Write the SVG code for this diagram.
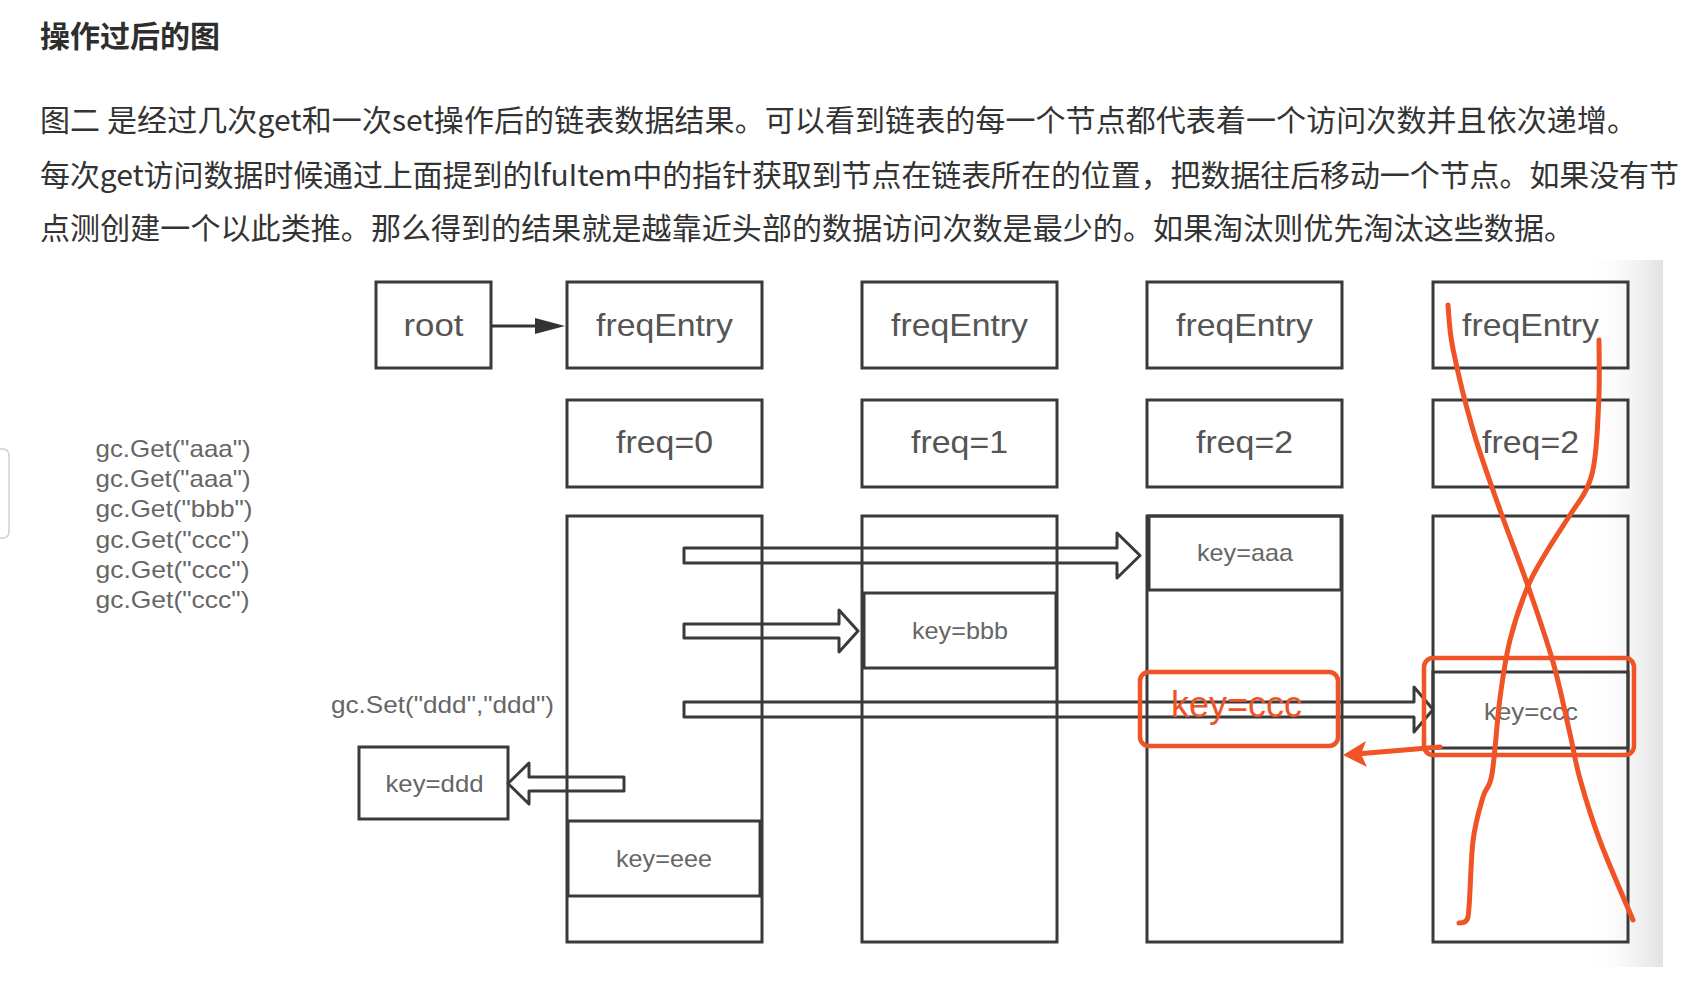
<svg xmlns="http://www.w3.org/2000/svg" width="1700" height="1002" viewBox="0 0 1700 1002">
<defs>
<linearGradient id="shadow" x1="0" y1="0" x2="1" y2="0">
<stop offset="0" stop-color="#ffffff" stop-opacity="0"/>
<stop offset="1" stop-color="#e1e1e1"/>
</linearGradient>
</defs>
<style>
.t{font-family:"Noto Sans CJK SC","Noto Sans",sans-serif;fill:#333;font-size:30px}
.title{font-weight:600;fill:#2e2e2e}
.box{fill:none;stroke:#3a3a3a;stroke-width:3}
.lbl{font-family:"Liberation Sans",Arial,sans-serif;fill:#555}
.big{font-size:32px}
.sm{font-size:24px;fill:#666}
.harrow{fill:none;stroke:#3a3a3a;stroke-width:3;stroke-linejoin:round}
.red{fill:none;stroke:#ef5326;stroke-width:5;stroke-linecap:round;stroke-linejoin:round}
.redbox{fill:none;stroke:#ef5326;stroke-width:4.5}
</style>
<rect x="0" y="0" width="1700" height="1002" fill="#ffffff"/>
<rect x="1585" y="260" width="78" height="707" fill="url(#shadow)"/>
<rect x="-12" y="449" width="21" height="89" rx="6" fill="none" stroke="#cfcfcf" stroke-width="1.5"/>

<g id="text-block">
<text class="t title" x="40" y="47.4">操作过后的图</text>
<text class="t" x="40" y="131.4" textLength="1597" lengthAdjust="spacing">图二 是经过几次get和一次set操作后的链表数据结果。可以看到链表的每一个节点都代表着一个访问次数并且依次递增。</text>
<text class="t" x="40" y="185.9" textLength="1639" lengthAdjust="spacing">每次get访问数据时候通过上面提到的lfuItem中的指针获取到节点在链表所在的位置，把数据往后移动一个节点。如果没有节</text>
<text class="t" x="40" y="239.4" textLength="1534" lengthAdjust="spacing">点测创建一个以此类推。那么得到的结果就是越靠近头部的数据访问次数是最少的。如果淘汰则优先淘汰这些数据。</text>
</g>

<g id="ops">
<text class="lbl sm" x="95.5" y="457" textLength="155" lengthAdjust="spacingAndGlyphs">gc.Get("aaa")</text>
<text class="lbl sm" x="95.5" y="487" textLength="155" lengthAdjust="spacingAndGlyphs">gc.Get("aaa")</text>
<text class="lbl sm" x="95.5" y="517" textLength="157" lengthAdjust="spacingAndGlyphs">gc.Get("bbb")</text>
<text class="lbl sm" x="95.5" y="547.5" textLength="154" lengthAdjust="spacingAndGlyphs">gc.Get("ccc")</text>
<text class="lbl sm" x="95.5" y="577.5" textLength="154" lengthAdjust="spacingAndGlyphs">gc.Get("ccc")</text>
<text class="lbl sm" x="95.5" y="608" textLength="154" lengthAdjust="spacingAndGlyphs">gc.Get("ccc")</text>
<text class="lbl sm" x="331" y="713" textLength="223" lengthAdjust="spacingAndGlyphs">gc.Set("ddd","ddd")</text>
</g>

<g id="root">
<rect class="box" x="376" y="282" width="115" height="86"/>
<text class="lbl big" x="403.5" y="336" textLength="60" lengthAdjust="spacingAndGlyphs">root</text>
</g>
<g id="freqEntry1">
<rect class="box" x="567" y="282" width="195" height="86"/>
<text class="lbl big" x="596" y="336" textLength="137" lengthAdjust="spacingAndGlyphs">freqEntry</text>
</g>
<g id="freqEntry2">
<rect class="box" x="862" y="282" width="195" height="86"/>
<text class="lbl big" x="891" y="336" textLength="137" lengthAdjust="spacingAndGlyphs">freqEntry</text>
</g>
<g id="freqEntry3">
<rect class="box" x="1147" y="282" width="195" height="86"/>
<text class="lbl big" x="1176" y="336" textLength="137" lengthAdjust="spacingAndGlyphs">freqEntry</text>
</g>
<g id="freqEntry4">
<rect class="box" x="1433" y="282" width="195" height="86"/>
<text class="lbl big" x="1462" y="336" textLength="137" lengthAdjust="spacingAndGlyphs">freqEntry</text>
</g>

<g id="freq0">
<rect class="box" x="567" y="400" width="195" height="87"/>
<text class="lbl big" x="616" y="453" textLength="97" lengthAdjust="spacingAndGlyphs">freq=0</text>
</g>
<g id="freq1">
<rect class="box" x="862" y="400" width="195" height="87"/>
<text class="lbl big" x="911" y="453" textLength="97" lengthAdjust="spacingAndGlyphs">freq=1</text>
</g>
<g id="freq2a">
<rect class="box" x="1147" y="400" width="195" height="87"/>
<text class="lbl big" x="1196" y="453" textLength="97" lengthAdjust="spacingAndGlyphs">freq=2</text>
</g>
<g id="freq2b">
<rect class="box" x="1433" y="400" width="195" height="87"/>
<text class="lbl big" x="1482" y="453" textLength="97" lengthAdjust="spacingAndGlyphs">freq=2</text>
</g>

<g id="list1"><rect class="box" x="567" y="516" width="195" height="426"/></g>
<g id="list2"><rect class="box" x="862" y="516" width="195" height="426"/></g>
<g id="list3"><rect class="box" x="1147" y="516" width="195" height="426"/></g>
<g id="list4"><rect class="box" x="1433" y="516" width="195" height="426"/></g>

<g id="key-aaa">
<rect class="box" x="1149" y="516" width="192" height="74"/>
<text class="lbl sm" x="1197" y="561" textLength="96" lengthAdjust="spacingAndGlyphs">key=aaa</text>
</g>
<g id="key-bbb">
<rect class="box" x="864" y="593" width="192" height="75"/>
<text class="lbl sm" x="912" y="639" textLength="96" lengthAdjust="spacingAndGlyphs">key=bbb</text>
</g>
<g id="key-ccc">
<rect class="box" x="1433" y="672" width="195" height="76"/>
<text class="lbl sm" x="1484" y="719.5" textLength="94" lengthAdjust="spacingAndGlyphs">key=ccc</text>
</g>
<g id="key-eee">
<rect class="box" x="568" y="821" width="192" height="75"/>
<text class="lbl sm" x="616" y="867" textLength="96" lengthAdjust="spacingAndGlyphs">key=eee</text>
</g>
<g id="key-ddd">
<rect class="box" x="359" y="747" width="149" height="72"/>
<text class="lbl sm" x="385.5" y="792" textLength="98" lengthAdjust="spacingAndGlyphs">key=ddd</text>
</g>

<g id="connectors">
<line x1="491" y1="326" x2="540" y2="326" stroke="#333" stroke-width="3"/>
<polygon points="565,326 535,318 535,334" fill="#333"/>
<polygon class="harrow" points="684,548 1117,548 1117,533 1140,555.5 1117,578 1117,563 684,563"/>
<polygon class="harrow" points="684,624 839,624 839,610 858,631 839,652 839,638 684,638"/>
<polygon class="harrow" points="684,702 1414,702 1414,687 1433,709.5 1414,732 1414,717 684,717"/>
<polygon class="harrow" points="624,777 529,777 529,763 508,783.5 529,804 529,791 624,791"/>
</g>

<g id="annotations">
<text x="1171" y="717" font-family="Liberation Sans, Arial, sans-serif" font-size="36" fill="#ef5326" textLength="131" lengthAdjust="spacingAndGlyphs">key=ccc</text>
<rect class="redbox" x="1140" y="672" width="198" height="74" rx="9"/>
<rect class="redbox" x="1424" y="658" width="210" height="97" rx="9"/>
<path class="red" d="M1440,747 L1362,753.5"/>
<polygon points="1343,755 1366,741 1361,754 1367,767" fill="#ef5326"/>
<path class="red" d="M1448,305 C1448.8,312.3 1448.8,328.2 1453,349 C1457.2,369.8 1465.2,403.2 1473,430 C1480.8,456.8 1490.8,484 1500,510 C1509.2,536 1519.2,560.7 1528,586 C1536.8,611.3 1546,637.3 1553,662 C1560,686.7 1565.5,714.5 1570,734 C1574.5,753.5 1575,761.2 1580,779 C1585,796.8 1591.2,817.5 1600,841 C1608.8,864.5 1627.5,906.8 1633,920"/>
<path class="red" d="M1599,340 C1599,349 1599.7,374.5 1599,394 C1598.3,413.5 1597,441.3 1595,457 C1593,472.7 1591.2,478.3 1587,488 C1582.8,497.7 1576.7,504.5 1570,515 C1563.3,525.5 1554,539.2 1547,551 C1540,562.8 1534.2,571.2 1528,586 C1521.8,600.8 1514.7,621.3 1510,640 C1505.3,658.7 1503,675.7 1500,698 C1497,720.3 1494.8,757.5 1492,774 C1489.2,790.5 1486.2,785.8 1483,797 C1479.8,808.2 1475.5,821 1473,841 C1470.5,861 1470.3,903.3 1468,917 Q1467,923 1459,923"/>
</g>
</svg>
